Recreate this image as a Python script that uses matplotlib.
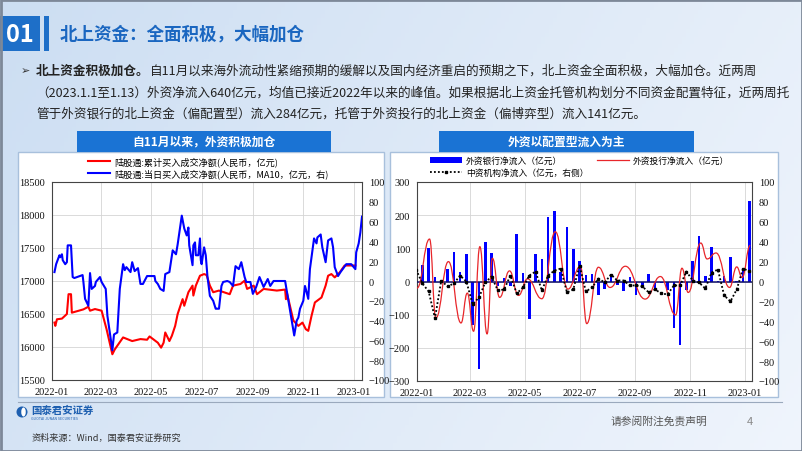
import numpy as np
import pandas as pd
import matplotlib
matplotlib.use('Agg')
import matplotlib.pyplot as plt
import matplotlib.dates as mdates
from matplotlib.path import Path
from matplotlib.patches import PathPatch, Rectangle, Patch, Circle, Ellipse
from matplotlib.lines import Line2D

plt.rcParams['font.family'] = ['Noto Sans CJK SC', 'DejaVu Sans']

# ---------------- left chart data ----------------
red_dates = ['2022-01-04', '2022-01-05', '2022-01-07', '2022-01-13', '2022-01-19', '2022-01-21',
             '2022-01-24', '2022-01-25', '2022-02-08', '2022-02-14', '2022-02-16', '2022-02-22',
             '2022-03-02', '2022-03-08', '2022-03-15', '2022-03-18', '2022-03-28', '2022-04-08',
             '2022-04-18', '2022-04-26', '2022-04-29', '2022-05-09', '2022-05-13', '2022-05-16',
             '2022-05-18', '2022-05-23', '2022-05-26', '2022-05-30', '2022-06-02', '2022-06-08',
             '2022-06-10', '2022-06-15', '2022-06-20', '2022-06-21', '2022-06-24', '2022-06-29',
             '2022-07-04', '2022-07-07', '2022-07-11', '2022-07-15', '2022-07-22', '2022-08-04',
             '2022-08-08', '2022-08-17', '2022-08-22', '2022-08-25', '2022-09-02', '2022-09-06',
             '2022-09-14', '2022-09-30', '2022-10-10', '2022-10-11', '2022-10-12', '2022-10-20',
             '2022-10-26', '2022-10-31', '2022-11-04', '2022-11-07', '2022-11-11', '2022-11-15',
             '2022-11-23', '2022-11-28', '2022-12-01', '2022-12-05', '2022-12-09', '2022-12-15',
             '2022-12-21', '2023-01-03']
red_vals = [16370, 16320, 16420, 16430, 16500, 16800, 16800, 16520, 16570, 16610, 16550, 16575,
            16550, 16270, 15890, 15965, 16145, 16090, 16120, 16110, 16160, 16065, 15990, 16065,
            16220, 16090, 16170, 16320, 16500, 16725, 16625, 16830, 16930, 16780, 16930, 17080,
            17105, 17090, 16930, 16830, 16855, 16800, 16930, 16955, 17005, 16880, 16930, 16800,
            16880, 16855, 16870, 16725, 16830, 16400, 16320, 16370, 16270, 16245, 16475, 16675,
            16750, 16930, 17080, 17105, 17055, 17130, 17235, 17235]

blue_dates = ['2022-01-04', '2022-01-06', '2022-01-10', '2022-01-11', '2022-01-13', '2022-01-14',
              '2022-01-17', '2022-01-19', '2022-01-20', '2022-01-24', '2022-01-26', '2022-01-28',
              '2022-02-07', '2022-02-08', '2022-02-10', '2022-02-14', '2022-02-16', '2022-02-18',
              '2022-02-22', '2022-02-23', '2022-02-28', '2022-03-02', '2022-03-07', '2022-03-09',
              '2022-03-15', '2022-03-17', '2022-03-21', '2022-03-24', '2022-03-28', '2022-03-30',
              '2022-04-01', '2022-04-06', '2022-04-08', '2022-04-11', '2022-04-15', '2022-04-18',
              '2022-04-21', '2022-04-26', '2022-05-05', '2022-05-06', '2022-05-09', '2022-05-12',
              '2022-05-16', '2022-05-18', '2022-05-23', '2022-05-27', '2022-05-31', '2022-06-02',
              '2022-06-07', '2022-06-10', '2022-06-13', '2022-06-15', '2022-06-16', '2022-06-20',
              '2022-06-21', '2022-06-23', '2022-06-24', '2022-06-27', '2022-06-29', '2022-06-30',
              '2022-07-01', '2022-07-04', '2022-07-06', '2022-07-08', '2022-07-11', '2022-07-15',
              '2022-07-18', '2022-07-19', '2022-07-22', '2022-07-25', '2022-07-27', '2022-08-01',
              '2022-08-04', '2022-08-08', '2022-08-11', '2022-08-15', '2022-08-18', '2022-08-22',
              '2022-08-24', '2022-08-29', '2022-09-01', '2022-09-05', '2022-09-09', '2022-09-14',
              '2022-09-19', '2022-09-22', '2022-09-26', '2022-10-10', '2022-10-13', '2022-10-17',
              '2022-10-19', '2022-10-21', '2022-10-24', '2022-10-26', '2022-10-28', '2022-11-01',
              '2022-11-03', '2022-11-04', '2022-11-07', '2022-11-09', '2022-11-14', '2022-11-17',
              '2022-11-18', '2022-11-22', '2022-11-24', '2022-11-28', '2022-12-01', '2022-12-05',
              '2022-12-07', '2022-12-09', '2022-12-13', '2022-12-16', '2022-12-23', '2022-12-29',
              '2023-01-03', '2023-01-04', '2023-01-07', '2023-01-09', '2023-01-11']
blue_vals = [9, 17, 26, 24, 27, 21, 17, 19, 36, 36, 4, 3,
             6, -1, -18, -25, 8, -8, -5, -1, 4, -1, -8, -35,
             -70, -54, -52, -8, 17, 11, 14, 9, 19, 10, 13, -3,
             -3, 5, 5, 0, -3, -8, -10, 7, 9, 31, 27, 37,
             66, 53, 46, 54, 36, 16, 36, 39, 26, 26, 43, 21,
             17, 34, 26, 5, -15, -20, -28, -28, -28, -5, -1, 0,
             -1, -5, 15, 12, 19, 4, -1, -1, -13, -6, 4, -6,
             2, -5, 0, 0, -15, -35, -45, -55, -40, -37, -28, -20,
             -5, -8, -18, 12, 43, 38, 44, 47, 34, 19, 41, 43,
             34, 14, 5, 9, 17, 17, 12, 29, 38, 49, 65]

# ---------------- right chart data ----------------
week_dates = pd.date_range('2021-12-31', periods=54, freq='7D')
bank_vals = [15, 50, 100, 14, 3, 37, 90, 30, 83, -131, -263, 118, 85, -13, 12, -15, 143, 27,
             -113, 83, 68, 194, 213, 28, 163, 98, 62, 19, 22, -40, -23, 24, -11, -28, 14, -41,
             -15, 24, -26, -5, -26, -139, -192, -25, 62, 138, 17, 103, 3, 17, 73, 3, 39, 244]
zhongzi_vals = [12, -2, -10, -37, 1, -5, -2, 6, 0, -23, -16, -1, 5, -9, -8, 6, -12, -6,
                6, 10, -9, 6, 11, 13, -11, -8, 16, -10, -6, 3, -1, 7, 1, 1, -4, -4,
                -5, -11, -8, -12, -13, -4, -4, 10, 1, -1, -7, 9, 12, -14, -20, -8, 13, 10.5]
# turning points of the investment-bank curve
tb_dates = ['2022-01-01', '2022-01-15', '2022-01-22', '2022-02-05', '2022-02-19', '2022-02-26',
            '2022-03-05', '2022-03-12', '2022-03-20', '2022-03-26', '2022-04-03', '2022-04-14',
            '2022-04-24', '2022-05-04', '2022-05-20', '2022-06-04', '2022-06-18', '2022-07-02',
            '2022-07-09', '2022-07-22', '2022-08-04', '2022-08-21', '2022-09-12', '2022-09-29',
            '2022-10-16', '2022-10-23', '2022-10-30', '2022-11-13', '2022-11-20', '2022-11-30',
            '2022-12-15', '2022-12-23', '2022-12-29', '2023-01-07']
tb_vals = [-20, 128, -110, 60, -125, -35, -150, 105, -158, 70, -48, 32,
           -42, 8, -52, 150, -23, 46, -127, 43, -18, 46, -53, 15,
           -101, 40, -33, 116, 68, 86, -18, 44, 12, 108.75]

W, H = 802, 452
fig = plt.figure(figsize=(W / 100, H / 100), dpi=100)

# background (pixel coordinates)
bg = fig.add_axes([0, 0, 1, 1], zorder=-5)
bg.set_xlim(0, W)
bg.set_ylim(H, 0)
bg.axis('off')
gx = np.linspace(0, 1, 200)[None, :]
gy = np.linspace(0, 1, 120)[:, None]
c0 = np.array([0.80, 0.87, 0.95])
c1 = np.array([0.94, 0.96, 0.99])
t = np.clip(0.75 * gx + 0.25 * gy, 0, 1)
grad = c0[None, None, :] * (1 - t[..., None]) + c1[None, None, :] * t[..., None]
bg.imshow(grad, extent=[0, W, H, 0], aspect='auto', zorder=0)
bg.add_patch(Rectangle((0.5, 0.5), W - 1, H - 1, fill=False, ec='#7d8898', lw=2, zorder=5))


def fit(txt, width):
    # scale a text so that it spans the given width in pixels
    fig.canvas.draw()
    w = txt.get_window_extent().width
    txt.set_fontsize(txt.get_fontsize() * width / w)


# header
bg.add_patch(Rectangle((0, 17), 40, 35, fc='#1e6fc8', ec='none', zorder=2))
bg.text(20, 35, '01', color='white', fontsize=17, fontweight='bold', ha='center', va='center', zorder=3)
bg.add_patch(Rectangle((44, 17), 4.5, 35, fc='#1e6fc8', ec='none', zorder=2))
title = bg.text(60, 34, '北上资金：全面积极，大幅加仓', color='#1a66c0', fontsize=13, fontweight='bold',
                va='center', zorder=3)
fit(title, 245)

# body text
tcol = '#222222'
line2 = bg.text(36, 93, '（2023.1.1至1.13）外资净流入640亿元，均值已接近2022年以来的峰值。如果根据北上资金托管机构划分不同资金配置特征，近两周托',
                fontsize=10, color=tcol, va='center', zorder=3)
fit(line2, 752)
fs = line2.get_fontsize()
bg.text(21, 71, '➢', fontsize=8, color='#333333', va='center', zorder=3)
t1 = bg.text(36, 71, '北上资金积极加仓。', fontsize=fs, fontweight='bold', color=tcol, va='center', zorder=3)
fig.canvas.draw()
bb = t1.get_window_extent().transformed(bg.transData.inverted())
bg.text(bb.x1, 71, '自11月以来海外流动性紧缩预期的缓解以及国内经济重启的预期之下，北上资金全面积极，大幅加仓。近两周',
        fontsize=fs, color=tcol, va='center', zorder=3)
bg.text(36, 114, '管于外资银行的北上资金（偏配置型）流入284亿元，托管于外资投行的北上资金（偏博弈型）流入141亿元。',
        fontsize=fs, color=tcol, va='center', zorder=3)

# panels and tabs
for (x0, x1, tx0, tx1, tab) in [(18, 384, 77, 331, '自11月以来，外资积极加仓'),
                                (390, 778, 439, 694, '外资以配置型流入为主')]:
    bg.add_patch(Rectangle((x0, 153), x1 - x0, 245, fc='white', ec='#a8c0dc', lw=1, zorder=1))
    bg.add_patch(Rectangle((tx0, 132), tx1 - tx0, 21, fc='#1a73d4', ec='none', zorder=2))
    bg.text((tx0 + tx1) / 2, 142.5, tab, color='white', fontsize=8.5, fontweight='bold',
            ha='center', va='center', zorder=3)

# footer
bg.plot([18, 782], [403, 403], color='#9aa9bd', lw=0.8, zorder=2)
bg.add_patch(Circle((22, 413), 5.5, fc='#1d5fb0', ec='none', zorder=3))
bg.add_patch(Ellipse((23.5, 413), 4.5, 9, fc='white', ec='none', zorder=4))
bg.text(31, 410.5, '国泰君安证券', color='#1d5fb0', fontsize=7.5, fontweight='bold', va='center', zorder=3)
bg.text(31, 419, 'GUOTAI JUNAN SECURITIES', color='#1d5fb0', fontsize=2.6, va='center', zorder=3)
src = bg.text(32, 438, '资料来源：Wind，国泰君安证券研究', color='#333333', fontsize=7, va='center', zorder=3)
fit(src, 150)
disc = bg.text(611, 421, '请参阅附注免责声明', color='#555555', fontsize=8, va='center', zorder=3)
fit(disc, 97)
bg.text(747, 422, '4', color='#8a8a8a', fontsize=8, va='center', zorder=3)

grid_col = '#d4d4d4'


def style_axis(ax, twin):
    for s in ax.spines.values():
        s.set_color('#444444')
        s.set_linewidth(0.8)
    ax.tick_params(length=0, pad=5)
    for lab in ax.get_xticklabels() + ax.get_yticklabels() + twin.get_yticklabels():
        lab.set_fontfamily('Liberation Serif')
        lab.set_fontsize(7.5)
        lab.set_color('#111111')
    twin.tick_params(length=0, pad=5)
    for s in twin.spines.values():
        s.set_visible(False)


# ---------------- left chart ----------------
ax1 = fig.add_axes([52 / W, 1 - 381 / H, 310 / W, 198 / H])
ax1.set_facecolor('white')
ax1.plot(pd.to_datetime(red_dates), red_vals, color='#ff0000', lw=1.5, zorder=3)
ax1.set_ylim(15500, 18500)
ax1.set_yticks(np.arange(15500, 18501, 500))
ax1.set_xlim(pd.Timestamp('2022-01-01'), pd.Timestamp('2023-01-11'))
ax1.xaxis.set_major_locator(mdates.MonthLocator(bymonth=[1, 3, 5, 7, 9, 11]))
ax1.xaxis.set_major_formatter(mdates.DateFormatter('%Y-%m'))
ax1.grid(True, color=grid_col, lw=0.6)
ax1.set_axisbelow(True)
ax1b = ax1.twinx()
ax1b.plot(pd.to_datetime(blue_dates), blue_vals, color='#0000ff', lw=1.5)
ax1b.set_ylim(-100, 100)
ax1b.set_yticks(np.arange(-100, 101, 20))
style_axis(ax1, ax1b)

leg_l = {'family': ['Noto Sans CJK SC', 'DejaVu Sans'], 'size': 6.6}
leg_r = {'family': ['Noto Sans CJK SC', 'DejaVu Sans'], 'size': 6.3}
h1 = [Line2D([], [], color='#ff0000', lw=1.5), Line2D([], [], color='#0000ff', lw=1.5)]
fig.legend(h1, ['陆股通:累计买入成交净额(人民币，亿元)', '陆股通:当日买入成交净额(人民币，MA10，亿元，右)'],
           loc='upper left', bbox_to_anchor=(88 / W, 1 - 157 / H), frameon=False, prop=leg_l,
           handlelength=2.4, handletextpad=0.5, labelspacing=0.3, borderpad=0, borderaxespad=0)

# ---------------- right chart ----------------
ax2 = fig.add_axes([417 / W, 1 - 382 / H, 335 / W, 199 / H])
ax2.set_facecolor('white')
ax2.bar(week_dates, bank_vals, width=2.8, color='#0000ff', zorder=3)
ax2.axhline(0, color='#10106a', lw=1.1, zorder=4)
xs = mdates.date2num(pd.to_datetime(tb_dates))
verts = [(xs[0], tb_vals[0])]
codes = [Path.MOVETO]
for i in range(len(xs) - 1):
    dx = xs[i + 1] - xs[i]
    verts += [(xs[i] + dx * 0.45, tb_vals[i]), (xs[i + 1] - dx * 0.45, tb_vals[i + 1]),
              (xs[i + 1], tb_vals[i + 1])]
    codes += [Path.CURVE4] * 3
ax2.add_patch(PathPatch(Path(verts, codes), fill=False, ec='#e8262a', lw=0.9, zorder=5))
ax2.set_ylim(-300, 300)
ax2.set_yticks(np.arange(-300, 301, 100))
ax2.set_xlim(pd.Timestamp('2022-01-01'), pd.Timestamp('2023-01-09'))
ax2.xaxis.set_major_locator(mdates.MonthLocator(bymonth=[1, 3, 5, 7, 9, 11]))
ax2.xaxis.set_major_formatter(mdates.DateFormatter('%Y-%m'))
ax2.grid(True, color=grid_col, lw=0.6)
ax2.set_axisbelow(True)
ax2b = ax2.twinx()
ax2b.plot(week_dates, zhongzi_vals, color='black', lw=1.3, ls=(0, (1, 1.2)),
          marker='s', ms=1.8, zorder=6)
ax2b.set_ylim(-100, 100)
ax2b.set_yticks(np.arange(-100, 101, 20))
style_axis(ax2, ax2b)

hb = Patch(fc='#0000ff', ec='none')
hz = Line2D([], [], color='black', lw=1.3, ls=(0, (1, 1.2)), marker='s', ms=2)
hr = Line2D([], [], color='#e8262a', lw=0.9)
fig.legend([hb, hz], ['外资银行净流入（亿元）', '中资机构净流入（亿元，右侧）'], loc='upper left',
           bbox_to_anchor=(430 / W, 1 - 157 / H), frameon=False, prop=leg_r, handlelength=3.6,
           handleheight=0.7, handletextpad=0.5, labelspacing=0.3, borderpad=0, borderaxespad=0)
fig.legend([hr], ['外资投行净流入（亿元）'], loc='upper left',
           bbox_to_anchor=(597 / W, 1 - 157 / H), frameon=False, prop=leg_r, handlelength=3.6,
           handletextpad=0.5, borderpad=0, borderaxespad=0)

# latest values box
ann_font = ['Noto Sans CJK SC', 'DejaVu Sans']
bg.text(660, 189, '2023年1月13日', fontsize=7.6, color='#222222', va='center', family=ann_font, zorder=6)
for yy, name, val in [(202, '外资银行', '+244.21↑'), (214.5, '外资投行', '+108.75↑'), (227, '中资机构', '+10.47↓')]:
    bg.text(660, yy, name, fontsize=7.6, color='#222222', va='center', family=ann_font, zorder=6)
    bg.text(704, yy, val, fontsize=7.2, color='#e8262a', va='center', family=ann_font, zorder=6)

fig.savefig('out.png', dpi=100)
